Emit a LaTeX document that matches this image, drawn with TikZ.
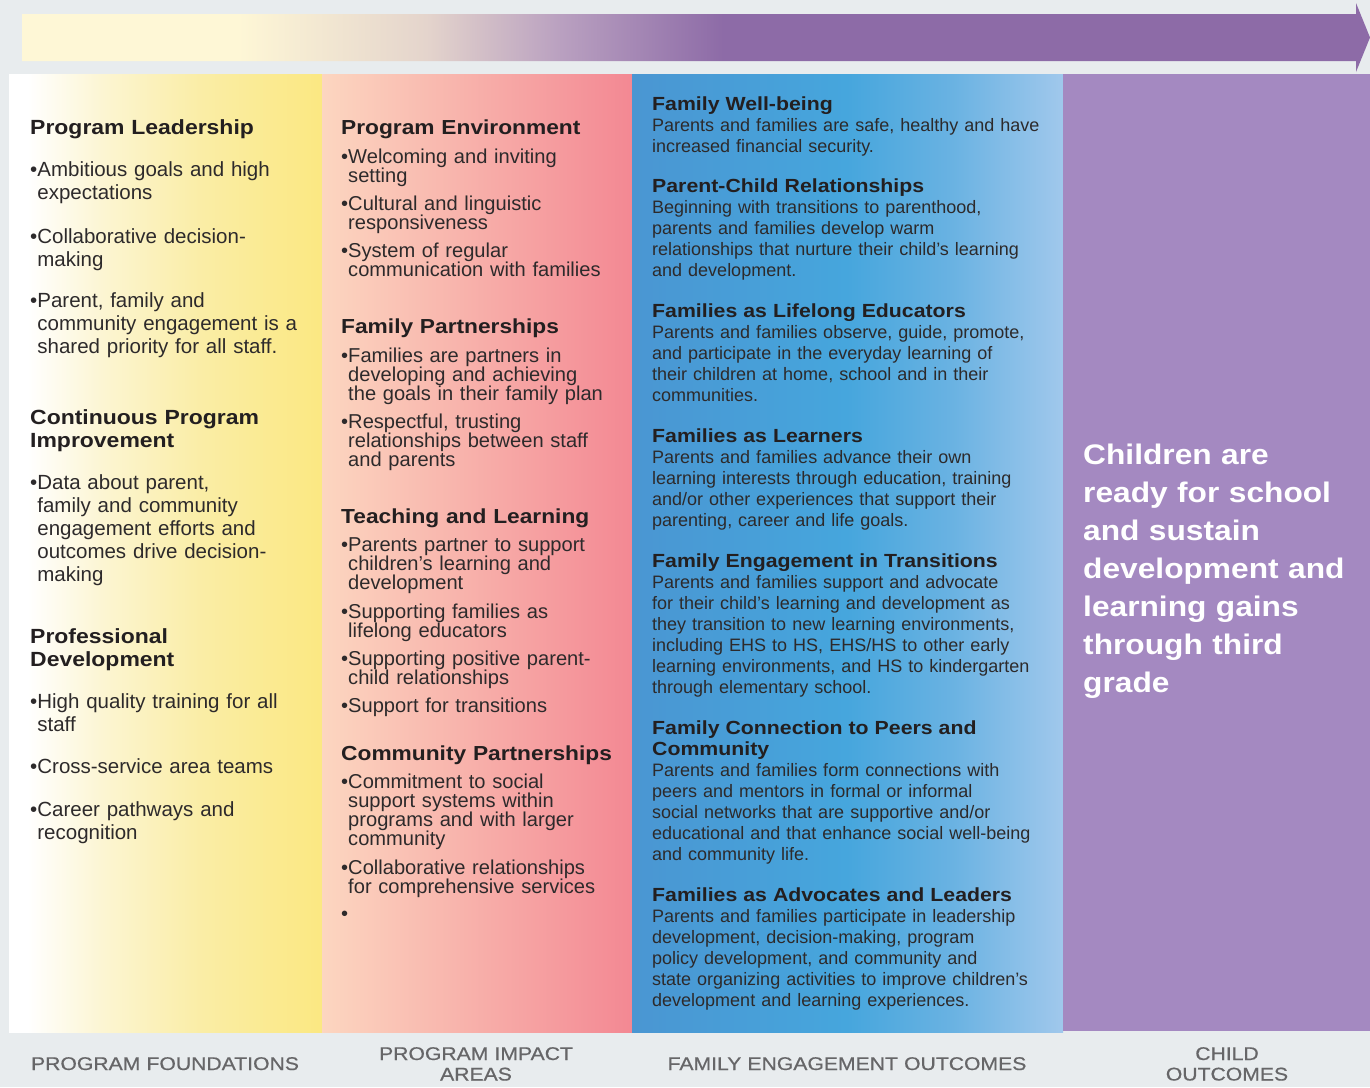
\documentclass[tikz,border=0pt]{standalone}
\usepackage{fontspec}
\setmainfont{Liberation Sans}
\newfontfamily\headfont[FakeStretch=1.12]{Liberation Sans}
\newfontfamily\footfont[FakeStretch=1.15,FakeBold=0.6]{Liberation Sans}
\definecolor{pagebg}{RGB}{232,236,238}
\definecolor{bandA}{RGB}{254,247,214}
\definecolor{bandB}{RGB}{228,212,204}
\definecolor{bandC}{RGB}{185,160,192}
\definecolor{bandD}{RGB}{141,107,167}
\definecolor{yelB}{RGB}{252,245,210}
\definecolor{yelC}{RGB}{250,237,165}
\definecolor{yelD}{RGB}{251,232,130}
\definecolor{pinkA}{RGB}{252,214,192}
\definecolor{pinkB}{RGB}{243,136,147}
\definecolor{blueA}{RGB}{74,150,210}
\definecolor{blueB}{RGB}{70,166,221}
\definecolor{blueC}{RGB}{105,178,226}
\definecolor{blueD}{RGB}{160,200,236}
\definecolor{purpcol}{RGB}{164,137,193}
\definecolor{headink}{RGB}{35,31,32}
\definecolor{bodyink}{RGB}{45,42,43}
\definecolor{footink}{RGB}{102,102,104}
\pgfdeclarehorizontalshading{bandshade}{100bp}{color(0bp)=(bandA); color(33bp)=(bandA); color(40bp)=(bandB); color(45bp)=(bandC); color(51bp)=(bandD); color(100bp)=(bandD)}
\pgfdeclarehorizontalshading{foundshade}{100bp}{color(0bp)=(white); color(28bp)=(white); color(40bp)=(yelB); color(56bp)=(yelC); color(75bp)=(yelD); color(100bp)=(yelD)}
\pgfdeclarehorizontalshading{outcomeshade}{100bp}{color(0bp)=(blueA); color(25bp)=(blueA); color(50bp)=(blueB); color(62bp)=(blueC); color(75bp)=(blueD); color(100bp)=(blueD)}
\newcommand\bitem[1]{\setbox0=\hbox{\textbullet}\hangindent=\wd0\hangafter=1\relax\textbullet#1\par}
\newcommand\sechead{\headfont\bfseries\fontsize{19}{21}\selectfont\color{headink}}
\begin{document}
\begin{tikzpicture}[x=1pt, y=-1pt,
  blk/.style={inner sep=0pt, anchor=base west, align=left},
  fhead/.style={blk, text width=330pt, text=headink, font=\headfont\bfseries\fontsize{20.5}{23}\selectfont},
  ftext/.style={blk, text width=330pt, text=bodyink, font=\fontsize{20.5}{23}\selectfont},
  ihead/.style={blk, text width=330pt, text=headink, font=\headfont\bfseries\fontsize{20.3}{19}\selectfont},
  itext/.style={blk, text width=330pt, text=bodyink, font=\fontsize{20.1}{19}\selectfont},
  otext/.style={blk, text width=420pt, text=bodyink, font=\fontsize{18}{21}\selectfont},
  ctext/.style={blk, text width=300pt, text=white, font=\headfont\bfseries\fontsize{28.3}{38}\selectfont},
  foot/.style={inner sep=0pt, anchor=base, text width=420pt, align=center, text=footink, font=\footfont\fontsize{18.4}{20.5}\selectfont}]
\useasboundingbox (0,0) rectangle (1370,1087);
\fill[pagebg] (0,0) rectangle (1370,1087);
\shade[shading=bandshade] (22,14) -- (1356,14) -- (1356,3) -- (1370,37.5) -- (1356,72) -- (1356,61) -- (22,61) -- cycle;
\shade[shading=foundshade] (9,74) rectangle (322,1032);
\shade[left color=pinkA, right color=pinkB] (322,74) rectangle (632,1032);
\shade[shading=outcomeshade] (632,74) rectangle (1063,1032);
\fill[purpcol] (1063,74) rectangle (1370,1031);

\node[fhead] (lead) at (30,134) {Program Leadership};
\node[ftext] (lead1) at (30,176) {\bitem{Ambitious goals and high\newline expectations}};
\node[ftext] (lead2) at (30,243) {\bitem{Collaborative decision-\newline making}};
\node[ftext] (lead3) at (30,307) {\bitem{Parent, family and\newline community engagement is a\newline shared priority for all staff.}};
\node[fhead] (improve) at (30,424) {Continuous Program\\Improvement};
\node[ftext] (improve1) at (30,489) {\bitem{Data about parent,\newline family and community\newline engagement efforts and\newline outcomes drive decision-\newline making}};
\node[fhead] (develop) at (30,643) {Professional\\Development};
\node[ftext] (develop1) at (30,708) {\bitem{High quality training for all\newline staff}};
\node[ftext] (develop2) at (30,773) {\bitem{Cross-service area teams}};
\node[ftext] (develop3) at (30,816) {\bitem{Career pathways and\newline recognition}};

\node[ihead] (env) at (341,134) {Program Environment};
\node[itext] (env1) at (341,163) {\bitem{Welcoming and inviting\newline setting}};
\node[itext] (env2) at (341,210) {\bitem{Cultural and linguistic\newline responsiveness}};
\node[itext] (env3) at (341,257) {\bitem{System of regular\newline communication with families}};
\node[ihead] (fampart) at (341,333) {Family Partnerships};
\node[itext] (fampart1) at (341,362) {\bitem{Families are partners in\newline developing and achieving\newline the goals in their family plan}};
\node[itext] (fampart2) at (341,428) {\bitem{Respectful, trusting\newline relationships between staff\newline and parents}};
\node[ihead] (teach) at (341,523) {Teaching and Learning};
\node[itext] (teach1) at (341,551) {\bitem{Parents partner to support\newline children’s learning and\newline development}};
\node[itext] (teach2) at (341,618) {\bitem{Supporting families as\newline lifelong educators}};
\node[itext] (teach3) at (341,665) {\bitem{Supporting positive parent-\newline child relationships}};
\node[itext] (teach4) at (341,712) {\bitem{Support for transitions}};
\node[ihead] (compart) at (341,760) {Community Partnerships};
\node[itext] (compart1) at (341,788) {\bitem{Commitment to social\newline support systems within\newline programs and with larger\newline community}};
\node[itext] (compart2) at (341,874) {\bitem{Collaborative relationships\newline for comprehensive services}};
\node[itext] (compart3) at (341,920) {\textbullet};

\node[otext] (wellbeing) at (652,110.5) {{\sechead Family Well-being}\\Parents and families are safe, healthy and have\\increased financial security.};
\node[otext] (parchild) at (652,192.5) {{\sechead Parent-Child Relationships}\\Beginning with transitions to parenthood,\\parents and families develop warm\\relationships that nurture their child’s learning\\and development.};
\node[otext] (educators) at (652,317.5) {{\sechead Families as Lifelong Educators}\\Parents and families observe, guide, promote,\\and participate in the everyday learning of\\their children at home, school and in their\\communities.};
\node[otext] (learners) at (652,442.5) {{\sechead Families as Learners}\\Parents and families advance their own\\learning interests through education, training\\and/or other experiences that support their\\parenting, career and life goals.};
\node[otext] (transit) at (652,567.5) {{\sechead Family Engagement in Transitions}\\Parents and families support and advocate\\for their child’s learning and development as\\they transition to new learning environments,\\including EHS to HS, EHS/HS to other early\\learning environments, and HS to kindergarten\\through elementary school.};
\node[otext] (peers) at (652,734.5) {{\sechead Family Connection to Peers and}\\{\sechead Community}\\Parents and families form connections with\\peers and mentors in formal or informal\\social networks that are supportive and/or\\educational and that enhance social well-being\\and community life.};
\node[otext] (leaders) at (652,901.5) {{\sechead Families as Advocates and Leaders}\\Parents and families participate in leadership\\development, decision-making, program\\policy development, and community and\\state organizing activities to improve children’s\\development and learning experiences.};

\node[ctext] (ready) at (1083,464) {Children are\\ready for school\\and sustain\\development and\\learning gains\\through third\\grade};

\node[foot] (foundlbl) at (165,1070) {PROGRAM FOUNDATIONS};
\node[foot] (impactlbl) at (476,1060) {PROGRAM IMPACT\\AREAS};
\node[foot] (outcomelbl) at (847,1070) {FAMILY ENGAGEMENT OUTCOMES};
\node[foot] (childlbl) at (1227,1060) {CHILD\\OUTCOMES};
\end{tikzpicture}
\end{document}
